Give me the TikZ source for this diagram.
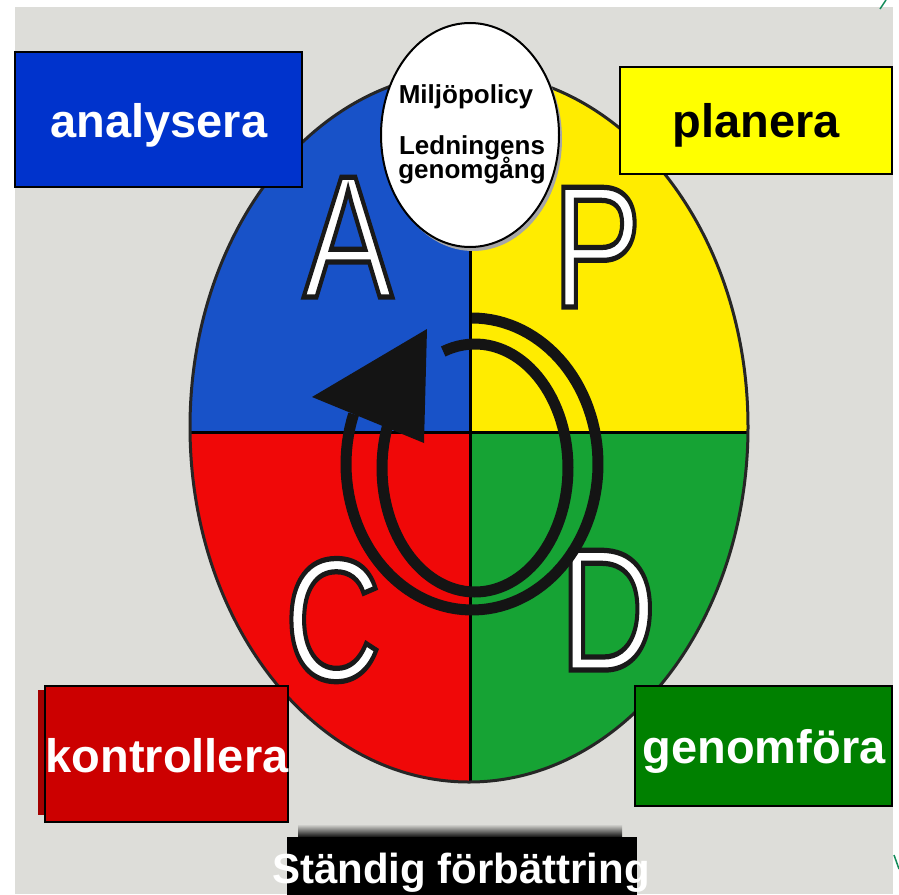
\documentclass[tikz,border=0pt]{standalone}
\usepackage{fontspec}
\setmainfont{Liberation Sans}
\newfontfamily\letfont[FakeBold=3]{Liberation Sans}
\usetikzlibrary{shapes.geometric}
\definecolor{bgc}{RGB}{221,221,217}
\definecolor{qblue}{RGB}{24,82,200}
\definecolor{qyellow}{RGB}{255,236,0}
\definecolor{qred}{RGB}{240,8,8}
\definecolor{qgreen}{RGB}{22,163,52}
\definecolor{bblue}{RGB}{0,51,204}
\definecolor{byellow}{RGB}{255,255,0}
\definecolor{bred}{RGB}{204,0,0}
\definecolor{bgreen}{RGB}{0,128,0}
\definecolor{ringc}{RGB}{20,20,20}
\definecolor{tealc}{RGB}{20,140,90}
\newcommand\outlined[1]{\special{pdf:literal direct 0.1 0.1 0.1 RG}#1}
\tikzset{
  box/.style={draw=black, line width=1.5pt, inner sep=0pt},
  bigtext/.style={font=\fontsize{47}{47}\selectfont\bfseries, anchor=base, inner sep=0pt},
  smalltext/.style={font=\fontsize{26}{26}\selectfont\bfseries, anchor=base, inner sep=0pt},
  bigletter/.style={font=\letfont\fontsize{174}{174}\selectfont, text=white, anchor=base, inner sep=0pt, xscale=0.77},
  ring/.style={line width=11pt, draw=ringc}
}
\begin{document}
\begin{tikzpicture}[x=1pt,y=-1pt]
\useasboundingbox (0,0) rectangle (899,894);
\fill[white] (0,0) rectangle (899,894);
\fill[bgc] (15,7) rectangle (893,894);
% stray marks
\draw[tealc, line width=1.5pt] (880,9) -- (886,0);
\draw[tealc, line width=1.5pt] (894,855) -- (899,869);
% big PDCA ellipse
\begin{scope}
  \clip (469,427) ellipse [x radius=279, y radius=355];
  \fill[qblue] (150,40) rectangle (470,432);
  \fill[qyellow] (470,40) rectangle (800,432);
  \fill[qred] (150,432) rectangle (470,800);
  \fill[qgreen] (470,432) rectangle (800,800);
  \draw[black, line width=3pt] (470,40) -- (470,800);
  \draw[black, line width=3pt] (150,432) -- (800,432);
\end{scope}
\draw[black!85, line width=3pt] (469,427) ellipse [x radius=279, y radius=355];
% letters
\node[bigletter] (letA) at (348,297) {\outlined{A}};
\node[bigletter] (letP) at (597,307) {\outlined{P}};
\node[bigletter] (letC) at (333,680) {\outlined{C}};
\node[bigletter] (letD) at (608,670) {\outlined{D}};
% circular arrow
\draw[ring] plot[domain=-90:200, samples=100] ({472+126*cos(\x)},{464+146*sin(\x)});
\draw[ring] plot[domain=-110:200, samples=100] ({475+93*cos(\x)},{468+124*sin(\x)});
\fill[ringc] (427,329) -- (312,397) -- (424,443) -- cycle;
% white ellipse
\fill[black!35] (473,139) ellipse [x radius=89, y radius=112];
\node[ellipse, draw=black, line width=2pt, fill=white, minimum width=178pt, minimum height=224pt, inner sep=0pt] (policy) at (470,135) {};
\node[smalltext] (t1) at (466,103) {Miljöpolicy};
\node[smalltext] (t2) at (472,154) {Ledningens};
\node[smalltext] (t3) at (472,178) {genomgång};
% corner boxes
\node[box, fill=bblue, minimum width=287pt, minimum height=135pt] (anabox) at (158.5,119.5) {};
\node[bigtext, text=white] (ana) at (159,137) {analysera};
\node[box, fill=byellow, minimum width=272pt, minimum height=107pt] (planbox) at (756,120.5) {};
\node[bigtext, text=black] (plan) at (756,137) {planera};
\fill[bred!80!black] (38,690) rectangle (46,815);
\node[box, fill=bred, minimum width=243pt, minimum height=136pt] (kontbox) at (166.5,754) {};
\node[bigtext, text=white] (kont) at (167,772) {kontrollera};
\node[box, fill=bgreen, minimum width=257pt, minimum height=120pt] (genbox) at (763.5,746) {};
\node[bigtext, text=white] (gen) at (764,763) {genomföra};
% bottom banner
\shade[top color=bgc, bottom color=black] (298,824) rectangle (622,838);
\node[fill=black, minimum width=350pt, minimum height=58pt, inner sep=0pt] (banbox) at (462,866) {};
\node[font=\fontsize{42}{42}\selectfont\bfseries, text=white, anchor=base, inner sep=0pt] (ban) at (461,883) {Ständig förbättring};
\end{tikzpicture}
\end{document}
